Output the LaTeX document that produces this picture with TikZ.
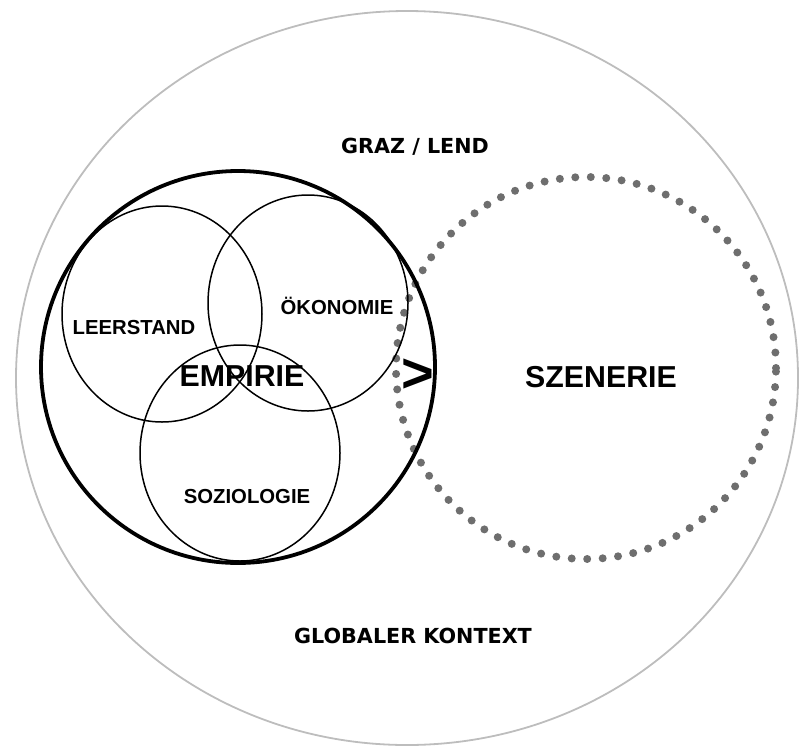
\documentclass[tikz,border=0pt]{standalone}
\usepackage{fontspec}
\setmainfont{Liberation Sans}
\newfontfamily\vfont{DejaVu Sans}
\usetikzlibrary{shapes.geometric}
\definecolor{outergray}{HTML}{BDBDBD}
\definecolor{dotgray}{HTML}{6E6E6E}
\begin{document}
\begin{tikzpicture}[x=1pt,y=-1pt,
  ring/.style={ellipse, inner sep=0pt, outer sep=0pt},
  outerring/.style={ring, draw=outergray, line width=1.8pt},
  mainring/.style={ring, draw=black, line width=3.8pt},
  subring/.style={ring, draw=black, line width=1.5pt, minimum width=200pt, minimum height=216pt},
  dotring/.style={ring, draw=dotgray, line width=8pt, line cap=round, dash pattern=on 0pt off 15.5pt},
  ctxlabel/.style={font=\vfont\bfseries\fontsize{20.7}{24}\selectfont, inner sep=0pt},
  sublabel/.style={font=\bfseries\fontsize{20.3}{24}\selectfont, inner sep=0pt},
  biglabel/.style={font=\bfseries\fontsize{30.3}{36}\selectfont, inner sep=0pt}
]
\useasboundingbox (0,0) rectangle (799,747);
\node[outerring, minimum width=782pt, minimum height=734pt] (outer) at (407,378) {};
\node[dotring, minimum width=380pt, minimum height=382pt] (szenering) at (586,368) {};
\node[mainring, minimum width=394pt, minimum height=392pt] (empiriering) at (238,367) {};
\node[subring] (leerring) at (162,314) {};
\node[subring] (oekoring) at (308,303) {};
\node[subring] (soziring) at (240,453) {};

\node[ctxlabel] (graz) at (415,147) {GRAZ / LEND};
\node[ctxlabel] (global) at (413,636) {GLOBALER KONTEXT};
\node[sublabel] (leer) at (134,328) {LEERSTAND};
\node[sublabel] (oeko) at (337,306) {ÖKONOMIE};
\node[sublabel] (sozi) at (247,497) {SOZIOLOGIE};
\node[biglabel] (empirie) at (242,376) {EMPIRIE};
\node[biglabel] (szenerie) at (601,377) {SZENERIE};
\node[font=\bfseries\fontsize{56}{56}\selectfont, inner sep=0pt] (gt) at (418,376) {>};
\end{tikzpicture}
\end{document}
